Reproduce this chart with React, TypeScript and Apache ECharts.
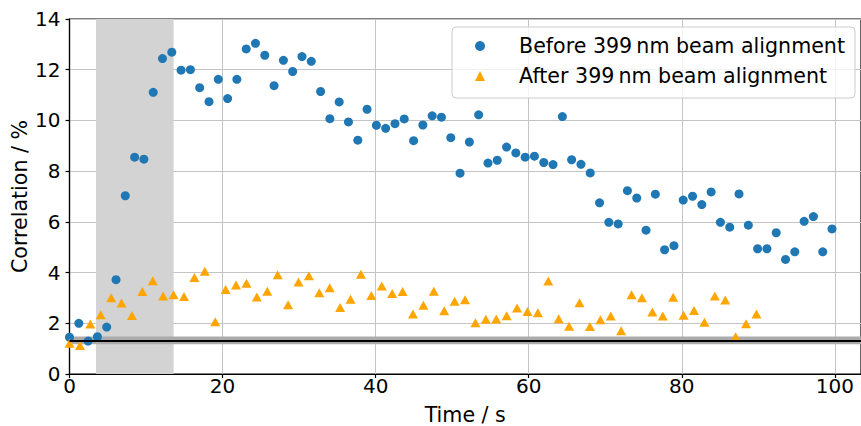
import React, { useEffect, useRef } from "react";
import * as echarts from "echarts";

const FONT = "'DejaVu Sans', sans-serif";

const beforeName = "Before 399\u2009nm beam alignment";
const afterName = "After 399\u2009nm beam alignment";

const beforeTime = [
  0, 1.22, 2.43, 3.65, 4.86, 6.08, 7.29, 8.51, 9.72, 10.94, 12.15, 13.37, 14.58, 15.8, 17.01,
  18.23, 19.44, 20.66, 21.87, 23.09, 24.3, 25.52, 26.73, 27.95, 29.16, 30.38, 31.59, 32.81,
  34.02, 35.24, 36.45, 37.67, 38.88, 40.1, 41.31, 42.53, 43.74, 44.96, 46.17, 47.39, 48.6,
  49.82, 51.03, 52.25, 53.46, 54.68, 55.89, 57.11, 58.32, 59.54, 60.75, 61.97, 63.18, 64.4,
  65.61, 66.83, 68.04, 69.26, 70.47, 71.69, 72.9, 74.12, 75.33, 76.55, 77.76, 78.98, 80.19,
  81.41, 82.62, 83.84, 85.05, 86.27, 87.48, 88.7, 89.91, 91.13, 92.34, 93.56, 94.77, 95.99,
  97.2, 98.42, 99.63,
];
const beforeCorr = [
  1.45, 2.0, 1.3, 1.47, 1.85, 3.72, 7.03, 8.55, 8.47, 11.11, 12.44, 12.69, 11.98, 12.0, 11.29,
  10.74, 11.62, 10.86, 11.62, 12.82, 13.04, 12.57, 11.37, 12.37, 11.93, 12.52, 12.33, 11.14,
  10.07, 10.73, 9.94, 9.22, 10.44, 9.81, 9.69, 9.87, 10.06, 9.2, 9.82, 10.18, 10.13, 9.32,
  7.92, 9.15, 10.22, 8.32, 8.43, 8.95, 8.72, 8.55, 8.59, 8.34, 8.26, 10.15, 8.45, 8.27, 7.93,
  6.75, 5.98, 5.92, 7.23, 6.94, 5.67, 7.09, 4.9, 5.06, 6.86, 7.01, 6.68, 7.18, 5.98, 5.79,
  7.1, 5.87, 4.94, 4.94, 5.57, 4.52, 4.82, 6.02, 6.21, 4.82, 5.72,
];

const afterTime = [
  0, 1.36, 2.72, 4.08, 5.44, 6.8, 8.16, 9.52, 10.88, 12.24, 13.6, 14.96, 16.32, 17.68, 19.04,
  20.4, 21.76, 23.12, 24.48, 25.84, 27.2, 28.56, 29.92, 31.28, 32.64, 34.0, 35.36, 36.72,
  38.08, 39.44, 40.8, 42.16, 43.52, 44.88, 46.24, 47.6, 48.96, 50.32, 51.68, 53.04, 54.4,
  55.76, 57.12, 58.48, 59.84, 61.2, 62.56, 63.92, 65.28, 66.64, 68.0, 69.36, 70.72, 72.08,
  73.44, 74.8, 76.16, 77.52, 78.88, 80.24, 81.6, 82.96, 84.32, 85.68, 87.04, 88.4, 89.76,
];
const afterCorr = [
  1.21, 1.12, 1.97, 2.34, 3.01, 2.8, 2.31, 3.25, 3.68, 3.08, 3.13, 3.06, 3.81, 4.05, 2.06,
  3.33, 3.51, 3.58, 3.04, 3.26, 3.91, 2.73, 3.63, 3.87, 3.2, 3.4, 2.62, 2.95, 3.93, 3.1, 3.47,
  3.17, 3.25, 2.37, 2.71, 3.26, 2.49, 2.87, 2.93, 2.02, 2.16, 2.17, 2.3, 2.6, 2.46, 2.42,
  3.67, 2.18, 1.88, 2.81, 1.87, 2.14, 2.29, 1.71, 3.13, 3.01, 2.45, 2.29, 3.03, 2.32, 2.5,
  2.04, 3.08, 2.92, 1.47, 1.98, 2.37,
];

// shaded alignment window (s) and baseline level with its band (%)
const alignWindow = [3.46, 13.6];
const baseline = 1.32;
const baselineBand = [1.17, 1.48];

const xTicks = [0, 20, 40, 60, 80, 100];

export default function App() {
  const ref = useRef<HTMLDivElement>(null);

  useEffect(() => {
    if (!ref.current) return;
    const chart = echarts.init(ref.current, undefined, { renderer: "svg" });
    const tickText = { fontFamily: FONT, fontSize: 20, color: "#000" };
    const nameText = { fontFamily: FONT, fontSize: 20.6, color: "#000" };
    chart.setOption({
      animation: false,
      backgroundColor: "#fff",
      grid: {
        left: 69.5,
        right: 0,
        top: 19,
        bottom: 52,
        containLabel: false,
        outerBoundsMode: "none",
        show: true,
        borderColor: "#000",
        borderWidth: 1.2,
      },
      xAxis: {
        type: "value",
        min: 0,
        max: 103.42,
        interval: 20,
        name: "Time / s",
        nameLocation: "middle",
        nameGap: 30,
        nameMoveOverlap: false,
        nameTextStyle: { ...nameText, lineHeight: 21 },
        axisLine: { show: true, onZero: false, lineStyle: { color: "#000", width: 1.2 } },
        axisTick: { show: true, inside: false, length: 4, lineStyle: { color: "#000", width: 1.2 } },
        axisLabel: {
          ...tickText,
          margin: 2,
          showMaxLabel: false,
          formatter: (v: number) => (xTicks.includes(v) ? String(v) : ""),
        },
        splitLine: { show: true, lineStyle: { color: "#c4c4c4", width: 1 } },
      },
      yAxis: {
        type: "value",
        min: 0,
        max: 14,
        interval: 2,
        name: "Correlation / %",
        nameLocation: "middle",
        nameGap: 39,
        nameRotate: 90,
        nameMoveOverlap: false,
        nameTextStyle: { ...nameText, lineHeight: 21 },
        axisLine: { show: true, onZero: false, lineStyle: { color: "#000", width: 1.2 } },
        axisTick: { show: true, inside: false, length: 4, lineStyle: { color: "#000", width: 1.2 } },
        axisLabel: { ...tickText, margin: 9 },
        splitLine: { show: true, lineStyle: { color: "#c4c4c4", width: 1 } },
      },
      legend: {
        data: [beforeName, afterName],
        orient: "vertical",
        right: 6,
        top: 27,
        itemWidth: 10,
        itemHeight: 10,
        itemGap: 6,
        padding: [7, 10, 10, 23],
        backgroundColor: "rgba(255,255,255,0.8)",
        borderColor: "#cccccc",
        borderWidth: 1,
        borderRadius: 4,
        textStyle: { ...nameText, lineHeight: 24, padding: [0, 0, 0, 29] },
      },
      series: [
        {
          name: "bands",
          type: "scatter",
          data: [],
          z: -1,
          silent: true,
          markArea: {
            silent: true,
            label: { show: false },
            data: [
              [
                { xAxis: alignWindow[0], itemStyle: { color: "#d3d3d3", opacity: 1 } },
                { xAxis: alignWindow[1] },
              ],
              [
                { yAxis: baselineBand[0], itemStyle: { color: "#ababab", opacity: 1 } },
                { yAxis: baselineBand[1] },
              ],
            ],
          },
        },
        {
          name: "baseline",
          type: "line",
          data: [],
          z: 1,
          silent: true,
          markLine: {
            silent: true,
            symbol: ["none", "none"],
            label: { show: false },
            lineStyle: { color: "#000", width: 2, type: "solid" },
            data: [{ yAxis: baseline }],
          },
        },
        {
          name: beforeName,
          type: "scatter",
          symbol: "circle",
          symbolSize: 9,
          itemStyle: { color: "#1f77b4", opacity: 1 },
          z: 3,
          data: beforeTime.map((t, i) => [t, beforeCorr[i]]),
        },
        {
          name: afterName,
          type: "scatter",
          symbol: "triangle",
          symbolSize: [10, 9],
          itemStyle: { color: "#ffa500", opacity: 1 },
          z: 3,
          data: afterTime.map((t, i) => [t, afterCorr[i]]),
        },
      ],
    });
    return () => chart.dispose();
  }, []);

  return (
    <div
      ref={ref}
      style={{ position: "fixed", left: 0, top: 0, width: 861, height: 426, background: "#fff" }}
    />
  );
}
